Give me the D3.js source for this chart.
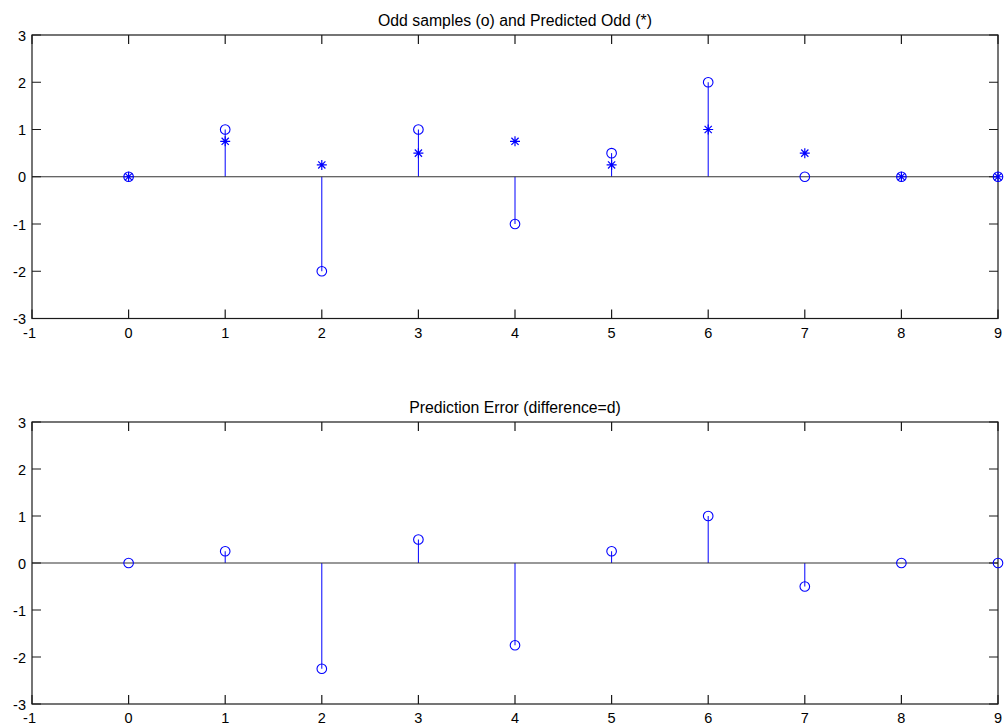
<!DOCTYPE html>
<html>
<head>
<meta charset="utf-8">
<script src="https://cdn.jsdelivr.net/npm/d3@7"></script>
<style>
  html, body { margin: 0; padding: 0; background: #fff; }
  svg { display: block; }
  text { font-family: "Liberation Sans", Arial, Helvetica, sans-serif; fill: #000; }
</style>
</head>
<body>
<svg id="chart" width="1005" height="725"></svg>
<script>
// Sample index (n) and the signals shown in the two panels
const n = [0, 1, 2, 3, 4, 5, 6, 7, 8, 9];
const oddSamples = [0, 1, -2, 1, -1, 0.5, 2, 0, 0, 0];
const predictedOdd = [0, 0.75, 0.25, 0.5, 0.75, 0.25, 1, 0.5, 0, 0];
const predictionError = [0, 0.25, -2.25, 0.5, -1.75, 0.25, 1, -0.5, 0, 0];

const xTicks = [-1, 0, 1, 2, 3, 4, 5, 6, 7, 8, 9];
const yTicks = [-3, -2, -1, 0, 1, 2, 3];
const titles = ["Odd samples (o) and Predicted Odd (*)", "Prediction Error (difference=d)"];

const svg = d3.select("#chart");
const BLUE = "#0000ff";
const AXIS = "#1a1a1a";
const FONT = 14.5;
const TITLE_FONT = 15.8;
const TICK = 9;

function panel(top, bottom, title, stemVals, starVals) {
  const left = 32, right = 998;
  const x = d3.scaleLinear().domain([-1, 9]).range([left, right]);
  const y = d3.scaleLinear().domain([-3, 3]).range([bottom, top]);
  const g = svg.append("g");

  // stems from the zero baseline
  g.selectAll("line.stem").data(n).join("line")
    .attr("class", "stem")
    .attr("x1", d => x(d)).attr("x2", d => x(d))
    .attr("y1", y(0)).attr("y2", (d, i) => y(stemVals[i]))
    .attr("stroke", BLUE).attr("stroke-width", 1);

  // zero baseline
  g.append("line")
    .attr("x1", x(-1)).attr("x2", x(9))
    .attr("y1", y(0)).attr("y2", y(0))
    .attr("stroke", "#333").attr("stroke-width", 1.2);

  // axes box
  g.append("rect")
    .attr("x", left).attr("y", top)
    .attr("width", right - left).attr("height", bottom - top)
    .attr("fill", "none").attr("stroke", AXIS).attr("stroke-width", 1.2);

  // inward ticks on all four sides
  const tickPath = d3.path();
  xTicks.forEach(t => {
    const px = x(t);
    tickPath.moveTo(px, bottom); tickPath.lineTo(px, bottom - TICK);
    tickPath.moveTo(px, top); tickPath.lineTo(px, top + TICK);
  });
  yTicks.forEach(t => {
    const py = y(t);
    tickPath.moveTo(left, py); tickPath.lineTo(left + TICK, py);
    tickPath.moveTo(right, py); tickPath.lineTo(right - TICK, py);
  });
  g.append("path").attr("d", tickPath.toString())
    .attr("stroke", AXIS).attr("stroke-width", 1.2).attr("fill", "none");

  // x tick labels: digit centred on the tick, minus sign hanging left
  const digitHalf = FONT * 0.556 / 2;
  g.selectAll("text.xl").data(xTicks).join("text")
    .attr("class", "xl")
    .attr("x", d => x(d) + digitHalf)
    .attr("y", bottom + 19)
    .attr("text-anchor", "end")
    .attr("font-size", FONT)
    .text(d => d);

  // y tick labels
  g.selectAll("text.yl").data(yTicks).join("text")
    .attr("class", "yl")
    .attr("x", left - 6)
    .attr("y", d => y(d) + 5.5)
    .attr("text-anchor", "end")
    .attr("font-size", FONT)
    .text(d => d);

  // title
  g.append("text")
    .attr("x", (left + right) / 2)
    .attr("y", top - 9)
    .attr("text-anchor", "middle")
    .attr("font-size", TITLE_FONT)
    .text(title);

  // circle markers at the stem tips
  g.selectAll("circle.mk").data(n).join("circle")
    .attr("class", "mk")
    .attr("cx", d => x(d))
    .attr("cy", (d, i) => y(stemVals[i]))
    .attr("r", 4.8)
    .attr("fill", "none").attr("stroke", BLUE).attr("stroke-width", 1.1);

  // asterisk markers
  if (starVals) {
    const r = 5, rd = 3.6;
    const star = g.selectAll("g.star").data(n).join("g")
      .attr("class", "star")
      .attr("transform", (d, i) => `translate(${x(d)},${y(starVals[i])})`);
    star.append("path")
      .attr("d", `M${-r},0H${r}M0,${-r}V${r}M${-rd},${-rd}L${rd},${rd}M${-rd},${rd}L${rd},${-rd}`)
      .attr("stroke", BLUE).attr("stroke-width", 1.2).attr("fill", "none");
  }
}

panel(35, 318.5, titles[0], oddSamples, predictedOdd);
panel(422, 704, titles[1], predictionError, null);
</script>
</body>
</html>
